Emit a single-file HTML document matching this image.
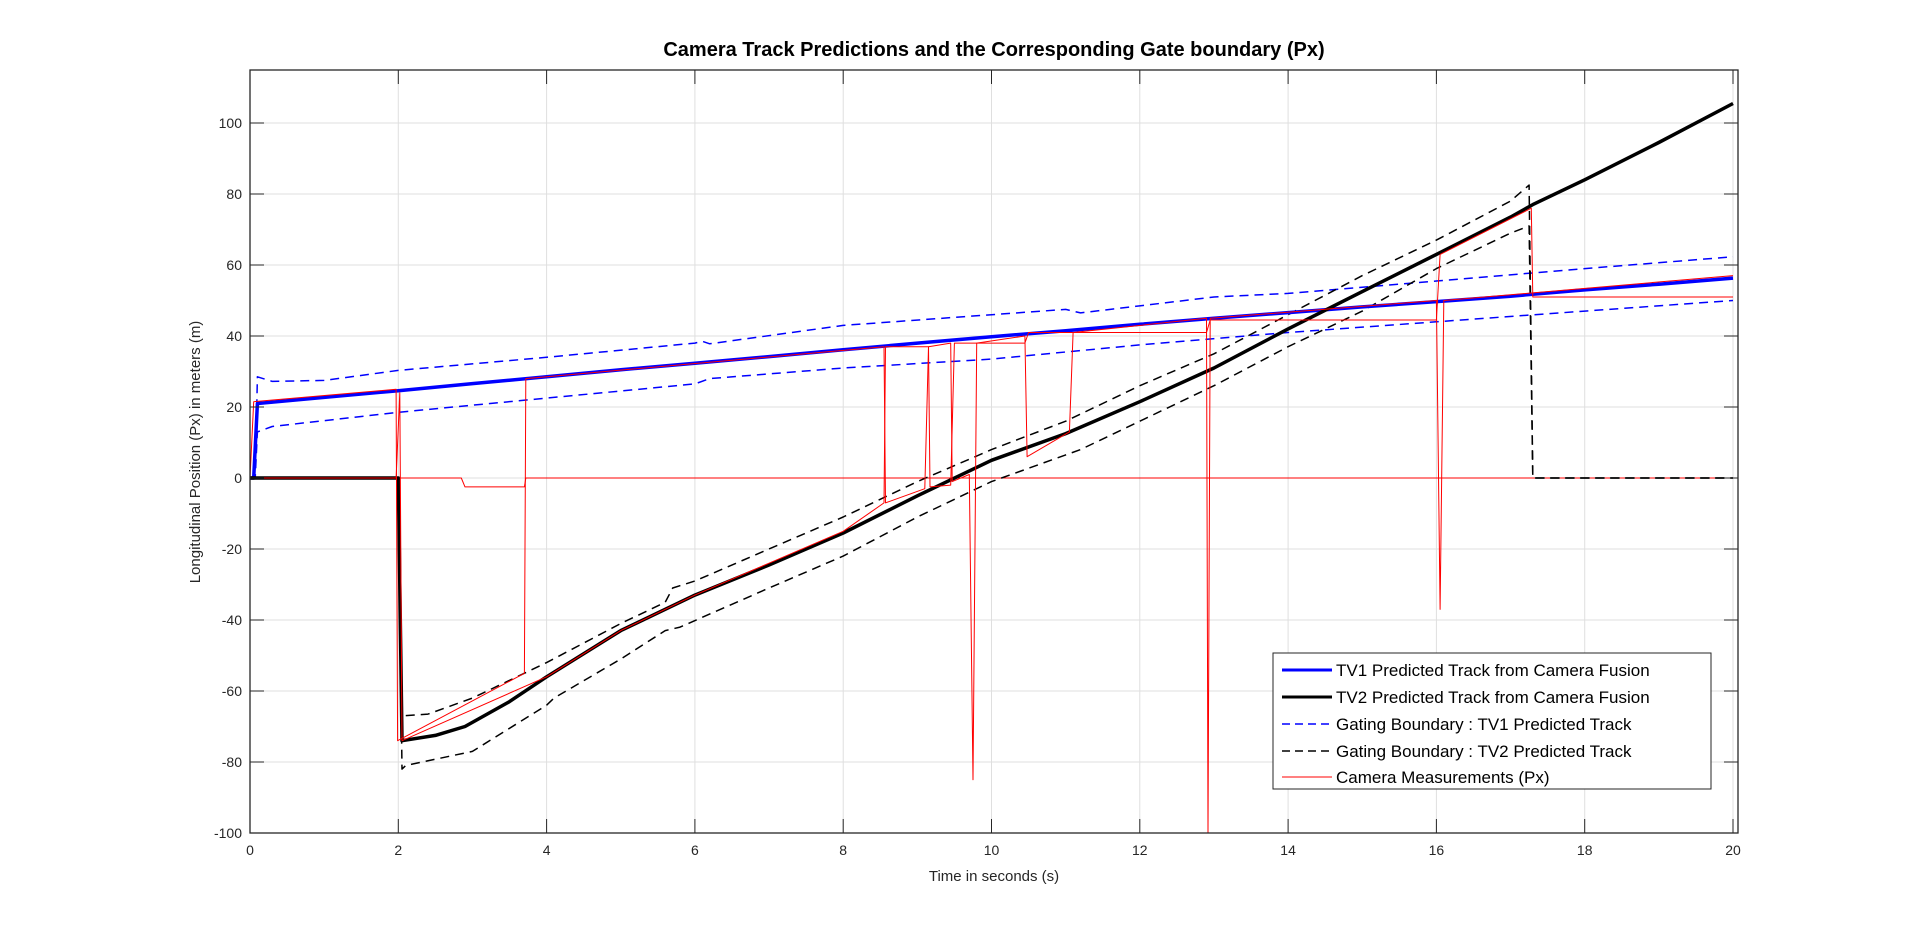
<!DOCTYPE html>
<html><head><meta charset="utf-8">
<style>
body{margin:0;background:#fff;}
svg{display:block;font-family:"Liberation Sans",sans-serif;}
</style></head>
<body>
<svg id="chart" width="1920" height="936" viewBox="0 0 1920 936" xmlns="http://www.w3.org/2000/svg">
<rect x="0" y="0" width="1920" height="936" fill="#fff"/>
<text x="994" y="56" text-anchor="middle" font-size="20" font-weight="bold" fill="#000">Camera Track Predictions and the Corresponding Gate boundary (Px)</text>
<g id="grid"></g>
<g id="series"></g>
<g id="axes"></g>
<text x="994" y="881" text-anchor="middle" font-size="15" fill="#262626">Time in seconds (s)</text>
<text transform="translate(200,452) rotate(-90)" text-anchor="middle" font-size="15" fill="#262626">Longitudinal Position (Px) in meters (m)</text>
<g>
<rect x="1273" y="653" width="438" height="136" fill="#fff" stroke="#262626" stroke-width="1"/>
<line x1="1282" y1="670" x2="1332" y2="670" stroke="#0000ff" stroke-width="3"/>
<text x="1336" y="676" font-size="17" fill="#000">TV1 Predicted Track from Camera Fusion</text>
<line x1="1282" y1="697" x2="1332" y2="697" stroke="#000" stroke-width="3"/>
<text x="1336" y="703" font-size="17" fill="#000">TV2 Predicted Track from Camera Fusion</text>
<line x1="1282" y1="724" x2="1332" y2="724" stroke="#0000ff" stroke-width="1.5" stroke-dasharray="8,5"/>
<text x="1336" y="730" font-size="17" fill="#000">Gating Boundary : TV1 Predicted Track</text>
<line x1="1282" y1="751" x2="1332" y2="751" stroke="#000" stroke-width="1.5" stroke-dasharray="8,5"/>
<text x="1336" y="757" font-size="17" fill="#000">Gating Boundary : TV2 Predicted Track</text>
<line x1="1282" y1="777" x2="1332" y2="777" stroke="#ff0000" stroke-width="1"/>
<text x="1336" y="783" font-size="17" fill="#000">Camera Measurements (Px)</text>
</g>
</svg>
<script>
const xTicks=[0,2,4,6,8,10,12,14,16,18,20];
const yTicks=[-100,-80,-60,-40,-20,0,20,40,60,80,100];
const tv1T=[0,0.05,0.1,1,2,3,4,5,6,7,8,9,10,11,12,13,14,15,16,17,18,19,20];
const tv1V=[0,0,21,22.7,24.6,26.6,28.5,30.5,32.3,34.2,36.1,38,39.8,41.5,43.3,45,46.6,48.2,49.7,51.2,53,54.6,56.3];
const tv2T=[0,2,2.05,2.5,2.9,3.5,4,5,6,7,8,9,10,11,12,13,14,15,16,17,17.3,18,19,20];
const tv2V=[0,0,-74,-72.5,-70,-63,-56,-43,-33,-24.5,-15.5,-5,5,12.5,21.5,31,42,52.5,63,73.5,77,84,94.5,105.5];
const g1uT=[0,0.07,0.1,0.3,1,2,4,6,6.1,6.2,8,10,11,11.2,13,14,16,18,20];
const g1uV=[0,0,28.5,27.2,27.5,30.3,34,38,38.5,37.8,43,46,47.5,46.5,51,52,55.5,59,62.3];
const g1lT=[0,0.07,0.1,0.3,2,4,6,6.2,8,10,12,14,16,18,20];
const g1lV=[0,0,13,14.5,18.5,22.5,26.5,28,31,33.5,37.5,41,44,47,50];
const g2uT=[0,2,2.05,2.4,3,4,5,5.6,5.7,6,7,8,9,10,11,11.2,12,13,14,15,16,17,17.25,17.3,20];
const g2uV=[0,0,-67,-66.5,-62,-52,-41,-35,-31,-29,-20,-11,-1,8,16,18,26,35,46,57,67,78,82.5,0,0];
const g2lT=[0,2,2.05,2.1,3,4,4.1,5,5.6,5.8,7,8,9,10,11,11.2,12,13,14,15,16,17,17.25,17.3,20];
const g2lV=[0,0,-82,-81,-77,-64,-62,-51,-43,-42,-31,-22,-11,-1,6.5,8,16,26,37,47,59,69,71,0,0];
const mAT=[0,0.05,1.97,1.99,3.7,3.72,8.55,8.57,9.1,9.15,9.45,9.47,9.7,9.75,9.8,10.45,10.48,11.05,11.1,12.9,12.92,12.95,16,16.05,16.1,20];
const mAV=[0,21.5,25,-74,-55,28,37,-7,-3,37,38,-1,1,-85,38,40,6,13,41,45,-100,45,50,-37,50,57];
const mBT=[0,1.97,2.02,2.05,4,5,6,7,8,8.55,8.57,9.15,9.17,9.45,9.5,10.45,10.5,12.9,12.95,16,16.05,17.28,17.3,20];
const mBV=[0,0,24,-74,-56,-43,-33,-24,-15,-7,37,37,-2.5,-2,38,38,41,41,44.5,44.5,63,76,51,51];
const mCT=[0,2.85,2.9,3.7,3.72,20];
const mCV=[0,0,-2.5,-2.5,0,0];

const L=250,R=1738,T=70,B=833,X1=1733;
const xs=t=>L+(X1-L)*t/20;
const ys=v=>833-(v+100)*3.55;
const NS='http://www.w3.org/2000/svg';
function mk(tag,parent,attrs){const e=document.createElementNS(NS,tag);for(const k in attrs)e.setAttribute(k,attrs[k]);parent.appendChild(e);return e;}
const grid=document.getElementById('grid'),axes=document.getElementById('axes'),ser=document.getElementById('series');
xTicks.forEach(t=>{
 const gl=mk('line',grid,{x1:xs(t),x2:xs(t),y1:T,y2:B,stroke:'#dfdfdf','stroke-width':1});
 
 
 mk('line',axes,{x1:xs(t),x2:xs(t),y1:B,y2:B-14,stroke:'#262626','stroke-width':1});
 mk('line',axes,{x1:xs(t),x2:xs(t),y1:T,y2:T+14,stroke:'#262626','stroke-width':1});
 const tx=mk('text',axes,{x:xs(t),y:B+22,'text-anchor':'middle','font-size':14,fill:'#262626'});
 
 
 tx.textContent=t;
});
yTicks.forEach(v=>{
 const gl=mk('line',grid,{x1:L,x2:R,y1:ys(v),y2:ys(v),stroke:'#dfdfdf','stroke-width':1});
 
 
 mk('line',axes,{x1:L,x2:L+14,y1:ys(v),y2:ys(v),stroke:'#262626','stroke-width':1});
 mk('line',axes,{x1:R,x2:R-14,y1:ys(v),y2:ys(v),stroke:'#262626','stroke-width':1});
 const tx=mk('text',axes,{x:L-8,y:ys(v)+5,'text-anchor':'end','font-size':14,fill:'#262626'});
 
 
 tx.textContent=v;
});
mk('rect',axes,{x:L,y:T,width:R-L,height:B-T,fill:'none',stroke:'#262626','stroke-width':1.3});
function line(ts,vs,style,name){
 const d=ts.map((t,i)=>(i?'L':'M')+xs(t).toFixed(1)+','+ys(vs[i]).toFixed(1)).join('');
 const p=mk('path',ser,Object.assign({d:d,fill:'none','stroke-linejoin':'round'},style));
 
 
}
line(mCT,mCV,{stroke:'#ff0000','stroke-width':1},'camera-measurements-zero');
line(g1uT,g1uV,{stroke:'#0000ff','stroke-width':1.5,'stroke-dasharray':'9,6'},'gate-tv1-upper');
line(g1lT,g1lV,{stroke:'#0000ff','stroke-width':1.5,'stroke-dasharray':'9,6'},'gate-tv1-lower');
line(g2uT,g2uV,{stroke:'#000','stroke-width':1.5,'stroke-dasharray':'9,6'},'gate-tv2-upper');
line(g2lT,g2lV,{stroke:'#000','stroke-width':1.5,'stroke-dasharray':'9,6'},'gate-tv2-lower');
line(tv1T,tv1V,{stroke:'#0000ff','stroke-width':3.5},'tv1-track');
line(tv2T,tv2V,{stroke:'#000','stroke-width':3.5},'tv2-track');
line(mAT,mAV,{stroke:'#ff0000','stroke-width':1},'camera-measurements-a');
line(mBT,mBV,{stroke:'#ff0000','stroke-width':1},'camera-measurements-b');
</script>
</body></html>
